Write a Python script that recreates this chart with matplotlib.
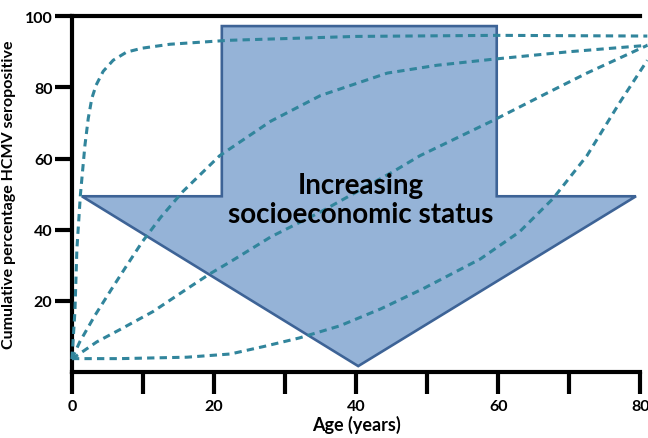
import numpy as np
import matplotlib.pyplot as plt
from matplotlib.patches import Polygon

plt.rcParams['font.family'] = ['Lato', 'DejaVu Sans']

# curves (age, cumulative %)
age_a = [0, 0.42, 0.7, 1.2, 1.83, 2.3, 2.8, 3.4, 4.4, 5.8, 7.7, 9.9, 13.8, 22, 40, 60, 81]
pct_a = [3.7, 17, 34.6, 50, 63.7, 71.3, 76.9, 80.6, 84.5, 87.6, 89.9, 91, 92.1, 93.2, 94.3, 94.6, 94.4]

age_b = [0, 1.1, 3.2, 5.6, 7.7, 9.9, 12.5, 15.6, 20.8, 28, 35, 44.4, 51.4, 59.3, 70, 81]
pct_b = [3.7, 8.5, 15.8, 23.4, 29.9, 36.6, 43.5, 50.7, 60.8, 70.5, 77.7, 84, 86.2, 87.9, 90, 91.8]

age_c = [0, 3.5, 6.8, 11.4, 16.2, 19.4, 22.3, 28, 35, 45.2, 49, 59.3, 66, 72.5, 81]
pct_c = [3.7, 8.5, 12, 17, 23.4, 27.6, 31, 38, 45, 56.3, 60.8, 70.7, 77.5, 84, 91.8]

age_e = [0, 6.8, 16.2, 22.3, 27, 32, 37.7, 43.5, 49.4, 57.5, 63, 67.7, 72.5, 77.2, 81]
pct_e = [3.8, 3.8, 4.2, 5.1, 7.2, 9.6, 13, 17.8, 23.4, 31.8, 39.4, 48.7, 60.8, 76, 87.6]

curves = [(age_a, pct_a), (age_b, pct_b), (age_c, pct_c), (age_e, pct_e)]

# big arrow outline (data coords)
arrow_x = [21.1, 59.8, 59.8, 79.4, 40.3, 1.4, 21.1]
arrow_y = [97.2, 97.2, 49.4, 49.4, 1.7, 49.4, 49.4]

xticks = [0, 10, 20, 30, 40, 50, 60, 70, 80]
xlabels = ['0', '', '20', '', '40', '', '60', '', '80']
yticks = [20, 40, 60, 80, 100]

fig = plt.figure(figsize=(6.48, 4.39), dpi=100)
ax = fig.add_axes([0.111, 0.150, 0.877, 0.811])

ax.add_patch(Polygon(list(zip(arrow_x, arrow_y)), closed=True,
                     facecolor='#95b3d7', edgecolor='#3d6396', lw=1.9, zorder=2))

for x, y in curves:
    ax.plot(x, y, color='#31859c', lw=2.2, dashes=(2.4, 1.7), zorder=3, clip_on=False)

ax.text(40.6, 48.5, 'Increasing\nsocioeconomic status', ha='center', va='center',
        fontsize=20, fontweight='bold', linespacing=1.18, zorder=4)

ax.set_xlim(0, 80)
ax.set_ylim(0, 100)
ax.set_xticks(xticks)
ax.set_xticklabels(xlabels)
ax.set_yticks(yticks)

for s in ['left', 'bottom', 'top']:
    ax.spines[s].set_linewidth(3)
ax.spines['right'].set_visible(False)
ax.tick_params(axis='x', length=16, width=3, pad=3, labelsize=11.5)
ax.tick_params(axis='y', length=12, width=3, pad=2, labelsize=11.5)
for lbl in ax.get_xticklabels() + ax.get_yticklabels():
    lbl.set_fontweight('bold')

ax.set_xlabel('Age (years)', fontsize=13, fontweight='bold', labelpad=2)
ax.set_ylabel('Cumulative percentage HCMV seropositive', fontsize=11.5,
              fontweight='bold', labelpad=6)

fig.savefig('out.png', dpi=100)
